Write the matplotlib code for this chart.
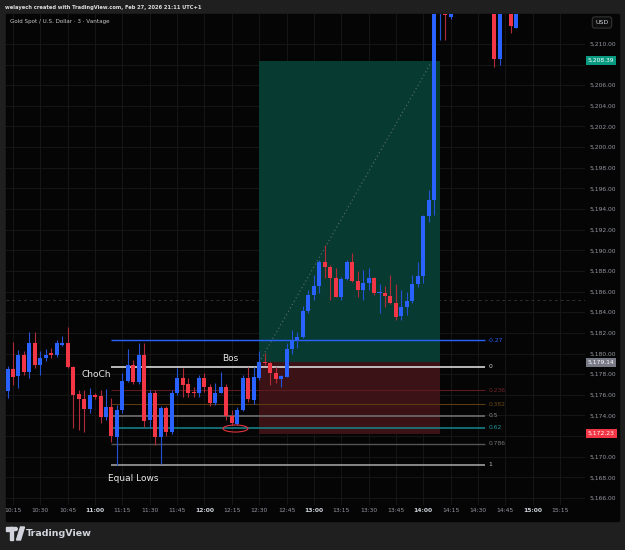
import matplotlib
matplotlib.use("Agg")
import matplotlib.pyplot as plt
import matplotlib.patches as mpatches
import matplotlib.transforms as mtransforms
import numpy as np

# XAUUSD 3-minute candles (Vantage feed)
bar_times = ["10:12", "10:15", "10:18", "10:21", "10:24", "10:27", "10:30", "10:33", "10:36", "10:39",
             "10:42", "10:45", "10:48", "10:51", "10:54", "10:57", "11:00", "11:03", "11:06", "11:09",
             "11:12", "11:15", "11:18", "11:21", "11:24", "11:27", "11:30", "11:33", "11:36", "11:39",
             "11:42", "11:45", "11:48", "11:51", "11:54", "11:57", "12:00", "12:03", "12:06", "12:09",
             "12:12", "12:15", "12:18", "12:21", "12:24", "12:27", "12:30", "12:33", "12:36", "12:39",
             "12:42", "12:45", "12:48", "12:51", "12:54", "12:57", "13:00", "13:03", "13:06", "13:09",
             "13:12", "13:15", "13:18", "13:21", "13:24", "13:27", "13:30", "13:33", "13:36", "13:39",
             "13:42", "13:45", "13:48", "13:51", "13:54", "13:57", "14:00", "14:03", "14:06", "14:09",
             "14:12", "14:15", "14:39", "14:42", "14:48", "14:51"]
opens = [5176.40, 5178.50, 5177.80, 5179.85, 5178.25, 5181.05, 5178.90, 5179.55, 5180.05, 5179.85,
         5180.85, 5181.05, 5178.70, 5176.05, 5175.55, 5174.60, 5175.98, 5175.90, 5173.80, 5174.80,
         5171.95, 5174.50, 5177.35, 5178.90, 5177.25, 5179.85, 5173.55, 5176.20, 5171.95, 5174.70,
         5172.35, 5176.15, 5177.65, 5177.05, 5176.30, 5176.15, 5177.60, 5176.80, 5175.25, 5176.20,
         5176.75, 5173.95, 5173.20, 5174.55, 5177.65, 5175.50, 5177.65, 5179.20, 5179.10, 5178.15,
         5177.50, 5177.75, 5180.40, 5181.30, 5181.60, 5184.15, 5185.65, 5186.55, 5188.90, 5188.40,
         5187.30, 5185.50, 5187.20, 5188.85, 5187.00, 5186.20, 5186.85, 5187.30, 5185.90, 5185.90,
         5185.55, 5184.90, 5183.60, 5184.50, 5185.10, 5186.70, 5187.55, 5193.30, 5194.90, 5214.00,
         5215.50, 5212.60, 5214.00, 5208.55, 5214.00, 5211.55]
highs = [5178.80, 5181.10, 5180.30, 5180.20, 5182.10, 5182.10, 5180.20, 5180.40, 5180.50, 5181.30,
         5181.70, 5182.60, 5178.80, 5176.45, 5176.45, 5176.65, 5176.15, 5176.45, 5176.55, 5175.70,
         5175.00, 5178.10, 5180.40, 5179.40, 5181.00, 5181.00, 5176.50, 5176.50, 5174.90, 5174.90,
         5176.50, 5178.55, 5178.55, 5177.60, 5176.80, 5177.90, 5178.10, 5177.00, 5177.10, 5178.25,
         5177.00, 5174.50, 5174.85, 5177.90, 5178.70, 5178.70, 5180.27, 5180.05, 5179.20, 5178.70,
         5177.90, 5181.00, 5182.30, 5182.10, 5184.60, 5186.15, 5187.60, 5189.05, 5190.50, 5188.55,
         5188.25, 5187.40, 5189.10, 5189.75, 5187.95, 5188.05, 5188.25, 5187.45, 5186.75, 5186.55,
         5187.60, 5186.75, 5186.20, 5186.00, 5187.60, 5188.90, 5193.45, 5195.85, 5215.00, 5217.00,
         5216.50, 5215.50, 5215.00, 5215.00, 5214.50, 5214.50]
lows = [5175.70, 5176.95, 5176.70, 5177.90, 5177.60, 5178.60, 5177.90, 5179.30, 5179.60, 5179.70,
        5180.70, 5178.55, 5172.80, 5172.60, 5172.40, 5174.25, 5175.60, 5173.30, 5173.55, 5171.45,
        5169.20, 5174.20, 5177.20, 5177.00, 5177.00, 5172.90, 5172.80, 5171.15, 5169.25, 5172.00,
        5172.20, 5176.00, 5175.80, 5175.80, 5175.75, 5175.75, 5176.30, 5174.90, 5175.00, 5176.15,
        5173.60, 5173.05, 5173.05, 5174.40, 5175.30, 5175.10, 5177.40, 5178.90, 5176.95, 5177.10,
        5176.80, 5177.75, 5180.00, 5180.50, 5181.50, 5183.90, 5185.20, 5185.90, 5187.35, 5185.20,
        5185.45, 5185.20, 5187.10, 5186.95, 5185.45, 5185.20, 5186.20, 5185.70, 5183.90, 5184.50,
        5184.75, 5183.20, 5183.25, 5183.75, 5184.85, 5186.45, 5186.80, 5192.75, 5193.40, 5210.40,
        5210.40, 5212.40, 5207.75, 5207.95, 5211.05, 5211.50]
closes = [5178.50, 5177.75, 5179.85, 5178.25, 5181.05, 5178.90, 5179.55, 5179.85, 5179.85, 5181.05,
          5181.05, 5178.70, 5175.97, 5175.55, 5174.60, 5175.98, 5175.80, 5173.80, 5174.80, 5172.00,
          5174.50, 5177.35, 5178.90, 5177.25, 5179.85, 5173.50, 5176.20, 5171.95, 5174.70, 5172.35,
          5176.15, 5177.65, 5176.95, 5176.20, 5176.15, 5177.65, 5176.80, 5175.25, 5176.20, 5176.75,
          5173.95, 5173.25, 5174.55, 5177.60, 5175.55, 5177.75, 5179.20, 5179.05, 5178.15, 5177.50,
          5177.80, 5180.40, 5181.30, 5181.60, 5184.15, 5185.65, 5186.55, 5188.90, 5188.40, 5187.30,
          5185.50, 5187.20, 5188.85, 5187.00, 5186.20, 5186.85, 5187.30, 5185.90, 5185.95, 5185.55,
          5184.85, 5183.55, 5184.50, 5185.10, 5186.70, 5187.55, 5193.30, 5194.90, 5214.50, 5216.00,
          5212.80, 5214.50, 5208.55, 5214.50, 5211.75, 5214.00]

price_ticks = list(range(5166, 5212, 2))
time_labels = ["10:15", "10:30", "10:45", "11:00", "11:15", "11:30", "11:45", "12:00", "12:15", "12:30",
               "12:45", "13:00", "13:15", "13:30", "13:45", "14:00", "14:15", "14:30", "14:45", "15:00",
               "15:15"]

# long position tool
entry_price = 5179.14
target_price = 5208.39
stop_price = 5172.23
position_start, position_end = "12:30", "14:09"

# fib retracement drawn over the range
fib_levels = [-0.27, 0, 0.236, 0.382, 0.5, 0.618, 0.786, 1]
fib_texts = ["-0.27", "0", "0.236", "0.382", "0.5", "0.62", "0.786", "1"]
fib_price_0 = 5178.70
fib_price_1 = 5169.20
fib_start, fib_end = "11:09", "14:34"

crosshair_price = 5185.2


def minutes(s):
    h, m = map(int, s.split(":"))
    return h * 60 + m - (10 * 60 + 15)


W, H = 625, 550
fig = plt.figure(figsize=(W / 100, H / 100), dpi=100, facecolor="#1f1f1f")


def fx(x):
    return x / W


def fy(y):
    return 1 - y / H


# black chart panel, kept behind the axes
panel = mpatches.Rectangle((fx(6), fy(521)), fx(613), 507 / H,
                           transform=fig.transFigure, color="#050505", zorder=-5)
fig.patches.append(panel)

ax = fig.add_axes([fx(6), fy(505), fx(579), 491 / H])
ax.set_zorder(2)
ax.set_facecolor("#050505")
for s in ax.spines.values():
    s.set_visible(False)

ax.set_xlim(-3.84, 313.7)
ax.set_ylim(5165.32, 5212.90)

ax.set_xticks([minutes(s) for s in time_labels])
ax.set_xticklabels(time_labels)
ax.set_yticks(price_ticks)
# ticks hidden behind the coloured price labels are left blank
covered = {round(target_price), round(stop_price)}
ax.set_yticklabels(["" if v in covered else f"{v:,.2f}" for v in price_ticks])
ax.yaxis.tick_right()
ax.tick_params(axis="both", length=0, labelsize=4.3, colors="#9598a1")
ax.tick_params(axis="x", pad=2.5)
ax.tick_params(axis="y", pad=3.6)
for lbl in ax.get_xticklabels():
    if lbl.get_text().endswith(":00"):
        lbl.set_fontweight("bold")
        lbl.set_color("#d1d4dc")
ax.grid(True, color="#161616", linewidth=0.7)
ax.set_axisbelow(True)

ax.axhline(crosshair_price, color="#2f2f2f", linewidth=0.7, linestyle=(0, (3, 3)), zorder=1)

# position boxes
p0, p1 = minutes(position_start), minutes(position_end)
ax.add_patch(mpatches.Rectangle((p0, entry_price), p1 - p0, target_price - entry_price,
                                facecolor="#073b31", edgecolor="none", zorder=1))
ax.add_patch(mpatches.Rectangle((p0, stop_price), p1 - p0, entry_price - stop_price,
                                facecolor="#3b1317", edgecolor="none", zorder=1))
ax.plot([p0, 229], [entry_price, 5208.1], color="#5d6e69", linewidth=0.8,
        linestyle=(0, (1, 2.5)), zorder=2)

# fib levels
fib_colors = ["#2962ff", "#d8d8d8", "#5c1a1f", "#5a3b12", "#6e6e6e", "#167f84", "#555555", "#9e9e9e"]
fib_text_colors = ["#2962ff", "#d8d8d8", "#74252b", "#6b4716", "#8a8a8a", "#1f9aa0", "#7a7a7a", "#c0c0c0"]
fib_widths = [1.0, 1.2, 0.8, 0.8, 1.2, 1.2, 1.0, 1.2]
f0, f1 = minutes(fib_start), minutes(fib_end)
for lev, txt, col, tcol, lw in zip(fib_levels, fib_texts, fib_colors, fib_text_colors, fib_widths):
    pr = fib_price_0 - lev * (fib_price_0 - fib_price_1)
    ax.plot([f0, f1], [pr, pr], color=col, linewidth=lw, zorder=2, solid_capstyle="butt")
    ax.text(f1 + 1.6, pr, txt, color=tcol, fontsize=4.3, va="center", ha="left", zorder=5)

# candles
t = np.array([minutes(s) for s in bar_times])
o, hi, lo, c = map(np.array, (opens, highs, lows, closes))
up = c >= o
ax.vlines(t, lo, hi, colors=np.where(up, "#2452d6", "#b02a38"), linewidth=0.8, zorder=3)
ax.bar(t, np.maximum(np.abs(c - o), 0.09), bottom=np.minimum(o, c), width=2.2,
       color=np.where(up, "#2962ff", "#f23645"), linewidth=0, zorder=4)

# annotations
ax.text(37.3, 5178.0, "ChoCh", color="#e8e8e8", fontsize=6.5, va="center", ha="left", zorder=6)
ax.text(114.6, 5179.56, "Bos", color="#e8e8e8", fontsize=6.5, va="center", ha="left", zorder=6)
ax.text(52.1, 5167.84, "Equal Lows", color="#e8e8e8", fontsize=6.5, va="center", ha="left", zorder=6)
ax.add_patch(mpatches.Ellipse((122.0, 5172.73), 13.7, 0.68, facecolor="none",
                              edgecolor="#e0323f", linewidth=0.8, zorder=6))

# price labels on the axis
blend = mtransforms.blended_transform_factory(ax.transAxes, ax.transData)
for pr, fc in [(target_price, "#089981"), (entry_price, "#787b86"), (stop_price, "#f23645")]:
    ax.text(1.005, pr, f"{pr:,.2f}", transform=blend, fontsize=4.3, color="#ffffff",
            va="center", ha="left", zorder=7, clip_on=False,
            bbox=dict(boxstyle="square,pad=0.3", facecolor=fc, edgecolor="none"))

fig.text(fx(602), fy(22.5), "USD", fontsize=4.5, color="#d1d4dc", ha="center", va="center", zorder=5,
         bbox=dict(boxstyle="round,pad=0.5,rounding_size=0.4", facecolor="#0d0d0d", edgecolor="#3a3a3a",
                   linewidth=0.7))

# header / title / footer
fig.text(fx(5), fy(7), "welayech created with TradingView.com, Feb 27, 2026 21:11 UTC+1",
         fontsize=3.7, color="#dcdcdc", fontweight="bold", va="center", ha="left")
fig.text(fx(10), fy(22), "Gold Spot / U.S. Dollar \u00b7 3 \u00b7 Vantage",
         fontsize=4.1, color="#c8c8c8", va="center", ha="left", zorder=5)

# TradingView logo
logo = "#d1d4dc"
fig.patches.append(mpatches.Rectangle((fx(6), fy(530.5)), fx(7), 3.5 / H, transform=fig.transFigure,
                                      color=logo))
fig.patches.append(mpatches.Rectangle((fx(9.5), fy(540)), fx(3.5), 13 / H, transform=fig.transFigure,
                                      color=logo))
fig.patches.append(mpatches.Circle((fx(15.5), fy(529)), fx(1.8), transform=fig.transFigure, color=logo))
fig.patches.append(mpatches.Polygon([(fx(16.5), fy(540)), (fx(20.5), fy(540)), (fx(24.5), fy(527)),
                                     (fx(20.5), fy(527))], closed=True, transform=fig.transFigure,
                                    color=logo))
fig.text(fx(26), fy(533.5), "TradingView", fontsize=6.8, color=logo, fontweight="bold",
         va="center", ha="left")

fig.savefig("out.png", dpi=100, facecolor=fig.get_facecolor())
